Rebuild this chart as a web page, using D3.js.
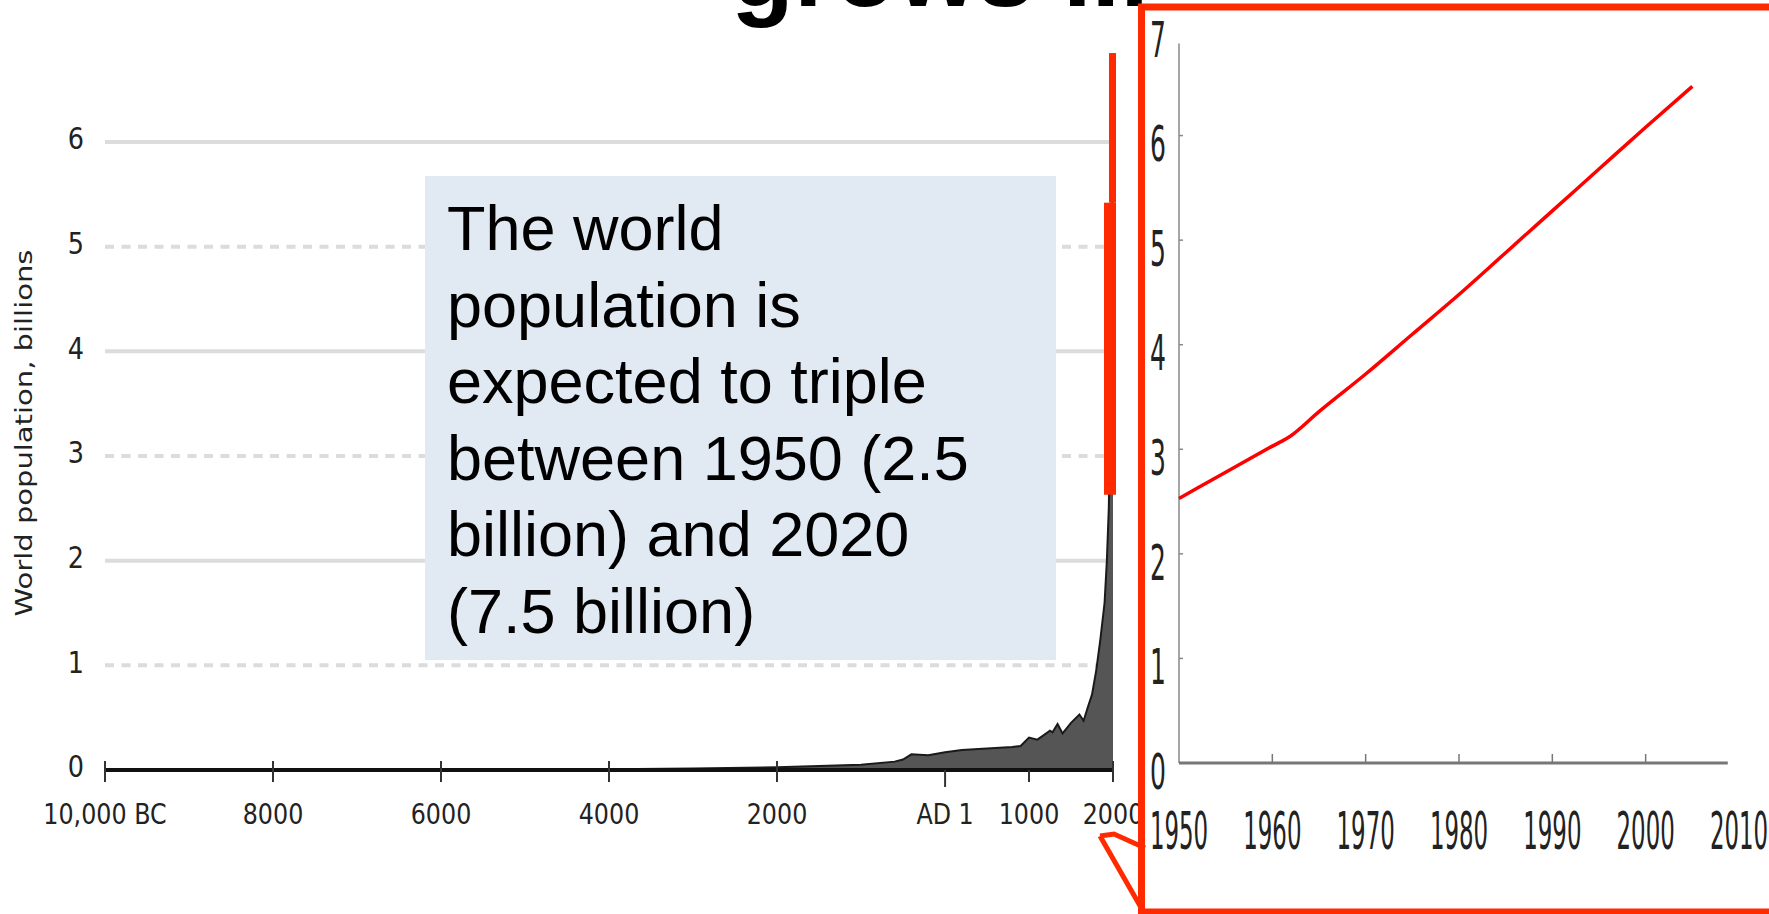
<!DOCTYPE html>
<html>
<head>
<meta charset="utf-8">
<script src="https://d3js.org/d3.v7.min.js"></script>
<style>
body { margin: 0; background: #fff; overflow: hidden; }
</style>
</head>
<body>
<div id="chart"></div>
<script>

// long run world population, billions
var histYears = [-10000, -8000, -6000, -4000, -3000, -2000, -1000, -600, -500, -400, -200, 1, 200, 600, 800, 900, 1000, 1100, 1250, 1280, 1340, 1400, 1500, 1600, 1650, 1700, 1750, 1800, 1850, 1900, 1927, 1950, 1960, 1970, 1980, 1990, 2000];
var histPop = [0.004, 0.005, 0.005, 0.007, 0.014, 0.027, 0.05, 0.08, 0.1, 0.15, 0.14, 0.17, 0.19, 0.21, 0.22, 0.23, 0.31, 0.29, 0.375, 0.36, 0.44, 0.35, 0.45, 0.53, 0.47, 0.6, 0.72, 0.95, 1.25, 1.6, 2.0, 2.5, 3.0, 3.7, 4.4, 5.3, 6.1];
var histTicks = [-10000, -8000, -6000, -4000, -2000, 1, 1000, 2000];
var histTickLabels = ["10,000 BC", "8000", "6000", "4000", "2000", "AD 1", "1000", "2000"];
var histGrid = [1, 2, 3, 4, 5, 6];
var histYLabels = [0, 1, 2, 3, 4, 5, 6];

// zoomed view 1950-2005
var recentYears = [1950, 1955, 1960, 1962, 1965, 1970, 1975, 1980, 1985, 1990, 1995, 2000, 2005];
var recentPop = [2.53, 2.78, 3.03, 3.13, 3.36, 3.72, 4.10, 4.48, 4.88, 5.28, 5.68, 6.08, 6.47];
var recentXTicks = [1950, 1960, 1970, 1980, 1990, 2000, 2010];
var recentYTicks = [0, 1, 2, 3, 4, 5, 6, 7];

// red highlight marks on the big chart (value ranges, billions)
var highlightThick = [2.63, 5.42];
var highlightThin = [5.42, 6.85];

var boxLines = ["The world", "population is", "expected to triple", "between 1950 (2.5", "billion) and 2020", "(7.5 billion)"];

var W = 1769, H = 914;
var RED = "#ff2a00";

var svg = d3.select("#chart").append("svg")
  .attr("width", W)
  .attr("height", H);

// title, mostly above the page like on the slide
svg.append("text")
  .attr("x", 731)
  .attr("y", 6)
  .style("font-family", "'Liberation Sans', Arial, sans-serif")
  .style("font-weight", "bold")
  .style("font-size", "103px")
  .attr("fill", "#000")
  .text("grows ...");

// LEFT CHART
var xL = d3.scaleLinear().domain([-10000, 2000]).range([105, 1113]);
var yL = d3.scaleLinear().domain([0, 6]).range([770, 142]);

var left = svg.append("g");

left.selectAll(".grid")
  .data(histGrid)
  .enter().append("line")
  .attr("class", "grid")
  .attr("x1", xL(-10000))
  .attr("x2", xL(2000))
  .attr("y1", function(d) { return yL(d); })
  .attr("y2", function(d) { return yL(d); })
  .attr("stroke", "#dcdcdc")
  .attr("stroke-width", 4)
  .attr("stroke-dasharray", function(d) { return d % 2 ? "9,7.5" : null; });

left.selectAll(".ylab")
  .data(histYLabels)
  .enter().append("text")
  .attr("class", "ylab")
  .attr("transform", function(d) { return "translate(84," + (yL(d) - 3) + ") scale(0.85,1)"; })
  .attr("text-anchor", "end")
  .attr("dominant-baseline", "central")
  .style("font-family", "'DejaVu Sans', sans-serif")
  .style("font-size", "30px")
  .attr("fill", "#222")
  .text(function(d) { return d; });

left.append("text")
  .attr("transform", "translate(24,433) rotate(-90) scale(1,0.8)")
  .attr("text-anchor", "middle")
  .attr("dominant-baseline", "central")
  .style("font-family", "'DejaVu Sans', sans-serif")
  .style("font-size", "29px")
  .attr("fill", "#222")
  .text("World population, billions");

var histData = histYears.map(function(y, i) { return { year: y, pop: histPop[i] }; });

var area = d3.area()
  .x(function(d) { return xL(d.year); })
  .y0(yL(0))
  .y1(function(d) { return yL(d.pop); });

var line = d3.line()
  .x(function(d) { return xL(d.year); })
  .y(function(d) { return yL(d.pop); });

left.append("path")
  .datum(histData)
  .attr("d", area)
  .attr("fill", "#555");

left.append("path")
  .datum(histData)
  .attr("d", line)
  .attr("fill", "none")
  .attr("stroke", "#1a1a1a")
  .attr("stroke-width", 2);

// x axis
left.append("line")
  .attr("x1", xL(-10000))
  .attr("x2", xL(2000))
  .attr("y1", yL(0))
  .attr("y2", yL(0))
  .attr("stroke", "#111")
  .attr("stroke-width", 4);

left.selectAll(".xtick")
  .data(histTicks)
  .enter().append("line")
  .attr("class", "xtick")
  .attr("x1", function(d) { return xL(d); })
  .attr("x2", function(d) { return xL(d); })
  .attr("y1", function(d) { return yL(0) + ((d > 0 && d < 2000) ? 0 : -9); })
  .attr("y2", function(d) { return yL(0) + (d == 1 ? 17 : 12); })
  .attr("stroke", "#333")
  .attr("stroke-width", 2);

left.selectAll(".xlab")
  .data(histTicks)
  .enter().append("text")
  .attr("class", "xlab")
  .attr("transform", function(d) { return "translate(" + xL(d) + ",824) scale(0.85,1)"; })
  .attr("text-anchor", "middle")
  .style("font-family", "'DejaVu Sans', sans-serif")
  .style("font-size", "28px")
  .attr("fill", "#222")
  .text(function(d, i) { return histTickLabels[i]; });

// text box
svg.append("rect")
  .attr("x", 425)
  .attr("y", 176)
  .attr("width", 631)
  .attr("height", 484)
  .attr("fill", "#e1e9f3");

svg.append("g").selectAll("text")
  .data(boxLines)
  .enter().append("text")
  .attr("x", 447)
  .attr("y", function(d, i) { return 250 + i * 76.6; })
  .style("font-family", "'Liberation Sans', Arial, sans-serif")
  .style("font-size", "63px")
  .attr("fill", "#000")
  .text(function(d) { return d; });

// red highlight bars at 2000
svg.append("rect")
  .attr("x", xL(2000) - 9)
  .attr("width", 12)
  .attr("y", yL(highlightThick[1]))
  .attr("height", yL(highlightThick[0]) - yL(highlightThick[1]))
  .attr("fill", RED);

svg.append("rect")
  .attr("x", xL(2000) - 4)
  .attr("width", 7)
  .attr("y", yL(highlightThin[1]))
  .attr("height", yL(highlightThin[0]) - yL(highlightThin[1]))
  .attr("fill", RED);

// INSET
var inset = svg.append("g");

inset.append("rect")
  .attr("x", 1141.5)
  .attr("y", 7)
  .attr("width", 700)
  .attr("height", 905)
  .attr("fill", "#fff")
  .attr("stroke", RED)
  .attr("stroke-width", 7);

// callout from the 2000 label to the inset
svg.append("path")
  .attr("d", "M" + (xL(2000) - 13) + ",836 L" + (xL(2000) + 1) + ",834 L1145,848 M" + (xL(2000) - 13) + ",836 L1143,911")
  .attr("fill", "none")
  .attr("stroke", RED)
  .attr("stroke-width", 5)
  .attr("stroke-linejoin", "miter");

var xR = d3.scaleLinear().domain([1950, 2010]).range([1179, 1739]);
var yR = d3.scaleLinear().domain([0, 7]).range([763, 31]);

inset.append("line")
  .attr("x1", xR(1950)).attr("x2", xR(1950))
  .attr("y1", yR(0)).attr("y2", yR(6.88))
  .attr("stroke", "#888")
  .attr("stroke-width", 1.5);

inset.append("line")
  .attr("x1", xR(1950)).attr("x2", xR(2008.8))
  .attr("y1", yR(0)).attr("y2", yR(0))
  .attr("stroke", "#777")
  .attr("stroke-width", 3);

inset.selectAll(".rxtick")
  .data(recentXTicks.filter(function(d) { return d > 1950 && d < 2010; }))
  .enter().append("line")
  .attr("class", "rxtick")
  .attr("x1", function(d) { return xR(d); })
  .attr("x2", function(d) { return xR(d); })
  .attr("y1", yR(0))
  .attr("y2", yR(0) - 9)
  .attr("stroke", "#777")
  .attr("stroke-width", 1.5);

inset.selectAll(".rytick")
  .data(recentYTicks.filter(function(d) { return d > 0 && d < 7; }))
  .enter().append("line")
  .attr("class", "rytick")
  .attr("x1", xR(1950))
  .attr("x2", xR(1950) + 4)
  .attr("y1", function(d) { return yR(d); })
  .attr("y2", function(d) { return yR(d); })
  .attr("stroke", "#888")
  .attr("stroke-width", 1.5);

inset.selectAll(".rylab")
  .data(recentYTicks)
  .enter().append("text")
  .attr("class", "rylab")
  .attr("transform", function(d) { return "translate(1158," + (yR(d) + 8) + ") scale(0.5,1)"; })
  .attr("text-anchor", "middle")
  .attr("dominant-baseline", "central")
  .style("font-family", "'DejaVu Sans', sans-serif")
  .style("font-size", "50px")
  .attr("fill", "#222")
  .text(function(d) { return d; });

inset.selectAll(".rxlab")
  .data(recentXTicks)
  .enter().append("text")
  .attr("class", "rxlab")
  .attr("transform", function(d) { return "translate(" + xR(d) + ",831) scale(0.44,1)"; })
  .attr("text-anchor", "middle")
  .attr("dominant-baseline", "central")
  .style("font-family", "'DejaVu Sans', sans-serif")
  .style("font-size", "52px")
  .attr("fill", "#222")
  .text(function(d) { return d; });

var recentData = recentYears.map(function(y, i) { return { year: y, pop: recentPop[i] }; });

inset.append("path")
  .datum(recentData)
  .attr("d", d3.line()
    .curve(d3.curveMonotoneX)
    .x(function(d) { return xR(d.year); })
    .y(function(d) { return yR(d.pop); }))
  .attr("fill", "none")
  .attr("stroke", "#ff0000")
  .attr("stroke-width", 3.5)
  .attr("stroke-linejoin", "round");

</script>
</body>
</html>
